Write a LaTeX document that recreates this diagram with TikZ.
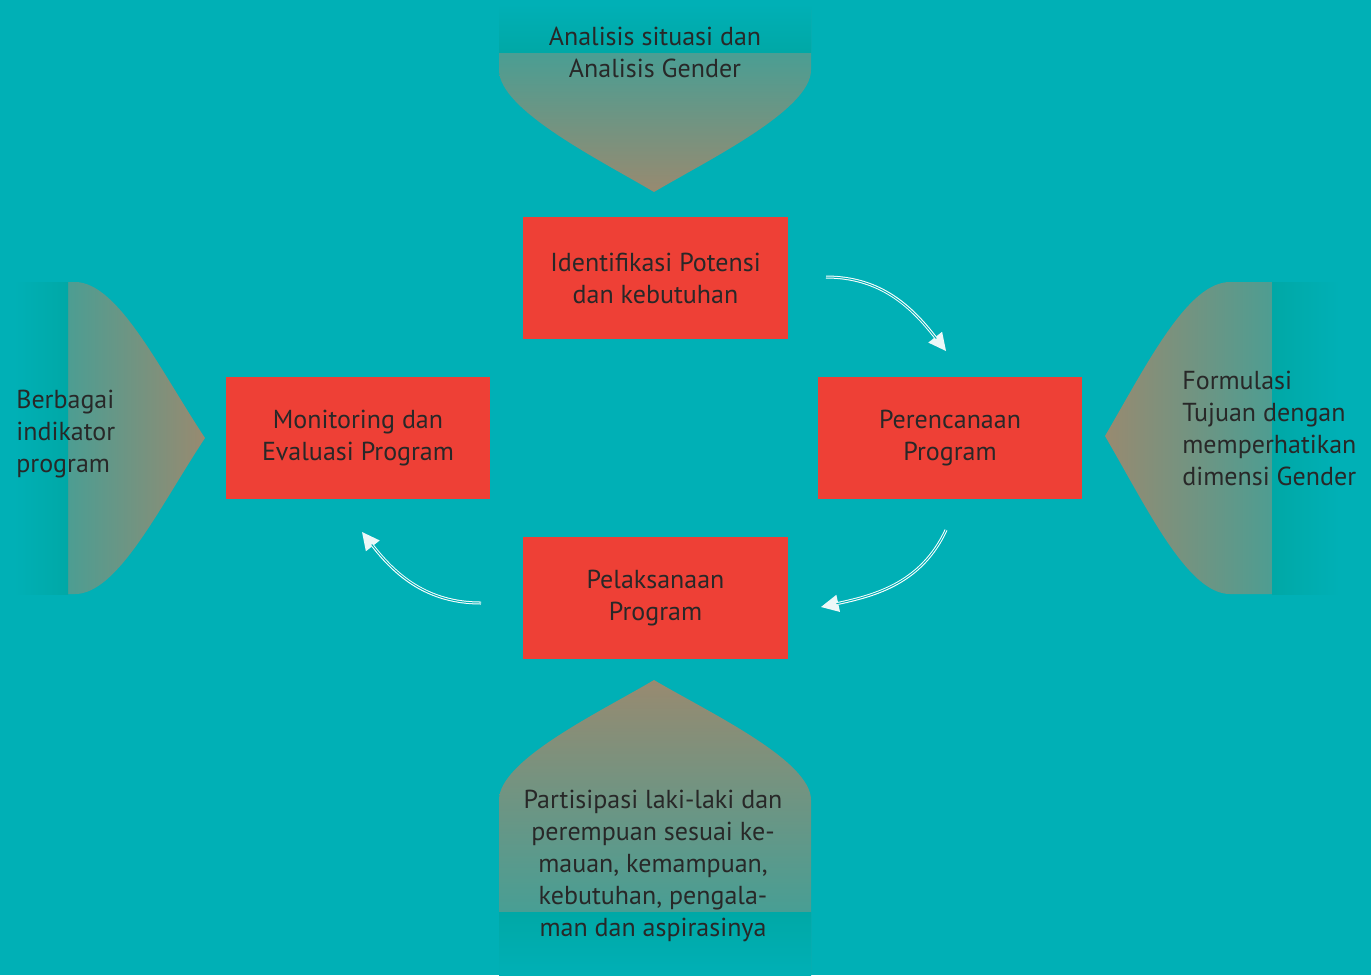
\documentclass[tikz,border=0pt]{standalone}
\usepackage{fontspec}
\setmainfont{PT Sans}
\usetikzlibrary{arrows.meta}
\definecolor{bgteal}{RGB}{0,176,182}
\definecolor{bandteal}{RGB}{0,168,166}
\definecolor{fadeteal}{RGB}{50,164,158}
\definecolor{dunbrown}{RGB}{152,138,112}
\definecolor{boxred}{RGB}{238,64,54}
\definecolor{inktext}{RGB}{40,40,40}
\definecolor{tipwhite}{RGB}{236,248,248}

\begin{document}
\begin{tikzpicture}
        [x=0.02cm,y=-0.02cm,
        every node/.style={font=\fontsize{14.8}{18.2}\selectfont,text=inktext,align=center,inner sep=0pt},
        stage/.style={fill=boxred,minimum width=5.3cm,minimum height=2.44cm},
        flow/.style={draw=white,line width=1.7pt,-{Triangle[length=10pt,width=10pt,color=tipwhite,fill=tipwhite,line width=0pt]},
          postaction={draw=bgteal,line width=0.55pt,-,shorten >=9pt}}]
        \useasboundingbox[fill=bgteal] (0,0) rectangle (1371,975);
        % top: situasi
        \shade[top color=fadeteal,bottom color=dunbrown]
          (499,10) -- (499,70) .. controls (499,110) and (600,160) .. (654,192)
          .. controls (708,160) and (811,110) .. (811,70) -- (811,10) -- cycle;
        \shade[top color=bgteal,bottom color=bandteal] (499,4) rectangle (811,52);
        % bottom: partisipasi
        \shade[top color=dunbrown,bottom color=fadeteal]
          (499,975) -- (499,800) .. controls (499,760) and (600,712) .. (654,680)
          .. controls (708,712) and (811,760) .. (811,800) -- (811,975) -- cycle;
        \shade[top color=bandteal,bottom color=bgteal] (499,912) rectangle (811,975);
        % left: indikator
        \shade[left color=fadeteal,right color=dunbrown]
          (20,282) -- (75,282) .. controls (118,282) and (160,370) .. (205,438)
          .. controls (160,506) and (118,594) .. (75,594) -- (20,594) -- cycle;
        \shade[left color=bgteal,right color=bandteal] (14,282) rectangle (68,594);
        % right: formulasi
        \shade[left color=dunbrown,right color=fadeteal]
          (1335,282) -- (1230,282) .. controls (1188,282) and (1148,362) .. (1105,436)
          .. controls (1148,510) and (1188,594) .. (1230,594) -- (1335,594) -- cycle;
        \shade[left color=bandteal,right color=bgteal] (1272,282) rectangle (1340,594);

        \node (situasi) at (655,52) {Analisis situasi dan\\Analisis Gender};
        \node[anchor=west,align=left] (indikator) at (16,434) {Berbagai\\indikator\\program};
        \node[anchor=west,align=left] (formulasi) at (1182,428) {Formulasi\\Tujuan dengan\\memperhatikan\\dimensi Gender};
        \node (partisipasi) at (653,866) {Partisipasi laki-laki dan\\perempuan sesuai ke-\\mauan, kemampuan,\\kebutuhan, pengala-\\man dan aspirasinya};

        \node[stage] (identifikasi) at (655.5,278) {Identifikasi Potensi\\dan kebutuhan};
        \node[stage] (perencanaan) at (950,438) {Perencanaan\\Program};
        \node[stage] (pelaksanaan) at (655.5,598) {Pelaksanaan\\Program};
        \node[stage] (monitoring) at (358,438) {Monitoring dan\\Evaluasi Program};

        \coordinate (a1s) at (826,277);
        \coordinate (a1e) at (946,351);
        \coordinate (a2s) at (946,530);
        \coordinate (a2e) at (821,607);
        \coordinate (a3s) at (481,603);
        \coordinate (a3e) at (362,532);
        \draw[flow] (a1s) to[out=0,in=128] (a1e);
        \draw[flow] (a2s) to[out=-115,in=12] (a2e);
        \draw[flow] (a3s) to[out=180,in=-52] (a3e);
        \end{tikzpicture}
\end{document}
